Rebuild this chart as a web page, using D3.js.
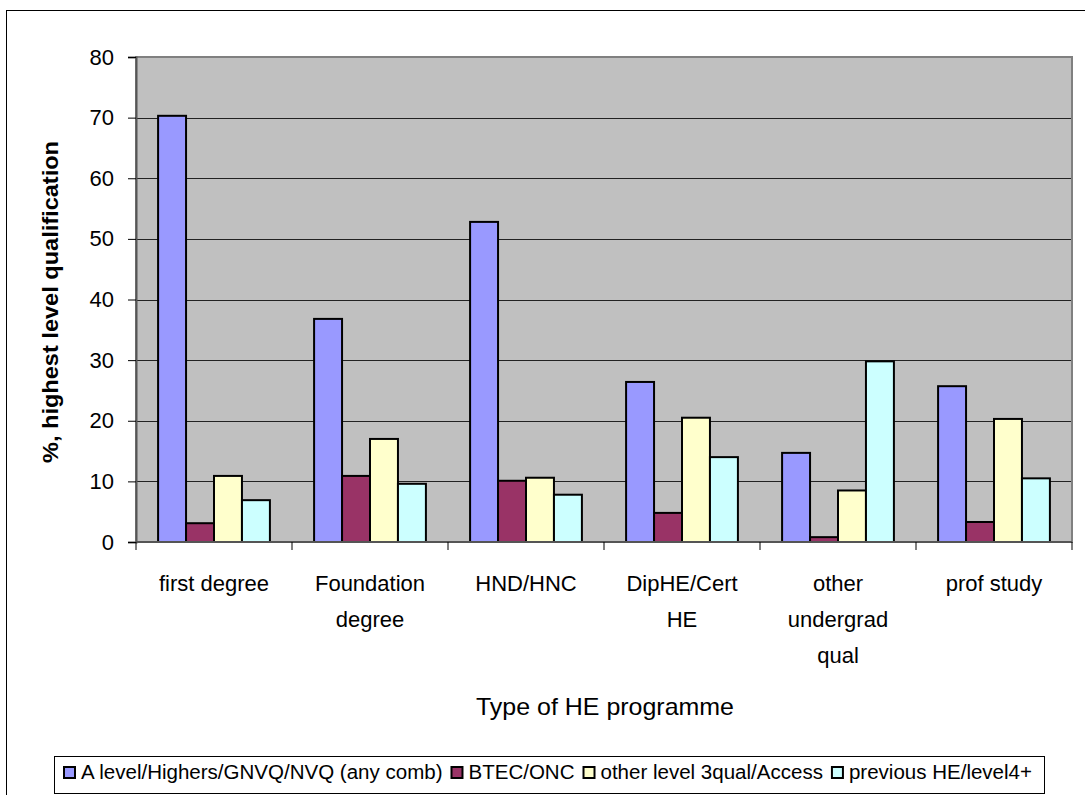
<!DOCTYPE html>
<html>
<head>
<meta charset="utf-8">
<script src="https://cdn.jsdelivr.net/npm/d3@7"></script>
<style>
  body { margin: 0; background: #fff; }
  text { font-family: "Liberation Sans", Arial, sans-serif; }
</style>
</head>
<body>
<div id="chart"></div>
<script>
const categories = ["first degree", "Foundation degree", "HND/HNC", "DipHE/Cert HE", "other undergrad qual", "prof study"];
const categoryLines = [["first degree"], ["Foundation", "degree"], ["HND/HNC"], ["DipHE/Cert", "HE"], ["other", "undergrad", "qual"], ["prof study"]];
const seriesNames = ["A level/Highers/GNVQ/NVQ (any comb)", "BTEC/ONC", "other level 3qual/Access", "previous HE/level4+"];
const seriesColors = ["#9999FF", "#993366", "#FFFFCC", "#CCFFFF"];
const aLevel = [70.3, 36.8, 52.8, 26.4, 14.7, 25.7];
const btec = [3.1, 10.9, 10.1, 4.8, 0.8, 3.3];
const otherL3 = [10.9, 17.0, 10.6, 20.5, 8.5, 20.3];
const prevHE = [6.9, 9.6, 7.8, 14.0, 29.8, 10.5];
const yTicks = [0, 10, 20, 30, 40, 50, 60, 70, 80];

const series = [aLevel, btec, otherL3, prevHE];
const width = 1085, height = 795;
const plotL = 136, plotR = 1072, plotT = 57, plotB = 542;

const svg = d3.select("#chart").append("svg")
    .attr("width", width)
    .attr("height", height);

// outer chart border
svg.append("rect")
    .attr("x", 6.5).attr("y", 10.5)
    .attr("width", 1090).attr("height", 800)
    .attr("fill", "#fff").attr("stroke", "#000").attr("stroke-width", 1);

const x = d3.scaleBand().domain(categories).range([plotL, plotR]);
const inner = d3.scaleBand().domain(d3.range(4))
    .range([0, x.bandwidth()]).paddingOuter(0.79).paddingInner(0);
const y = d3.scaleLinear().domain([0, 80]).range([plotB, plotT]);

// plot background
svg.append("rect")
    .attr("x", plotL).attr("y", plotT)
    .attr("width", plotR - plotL).attr("height", plotB - plotT)
    .attr("fill", "#C0C0C0");

// gridlines
svg.append("g").selectAll("line")
    .data(yTicks.filter(d => d > 0 && d < 80))
    .join("line")
    .attr("x1", plotL).attr("x2", plotR)
    .attr("y1", d => Math.round(y(d)) + 0.5).attr("y2", d => Math.round(y(d)) + 0.5)
    .attr("stroke", "#222").attr("stroke-width", 1);

// plot border
svg.append("rect")
    .attr("x", plotL).attr("y", plotT)
    .attr("width", plotR - plotL).attr("height", plotB - plotT)
    .attr("fill", "none").attr("stroke", "#808080").attr("stroke-width", 2);

// bars
const groups = svg.append("g").selectAll("g")
    .data(series)
    .join("g")
    .attr("fill", (d, i) => seriesColors[i]);

groups.selectAll("rect")
    .data((vals, si) => vals.map((v, ci) => ({ v, ci, si })))
    .join("rect")
    .attr("x", d => x(categories[d.ci]) + inner(d.si))
    .attr("width", inner.bandwidth())
    .attr("y", d => y(d.v))
    .attr("height", d => y(0) - y(d.v))
    .attr("stroke", "#000")
    .attr("stroke-width", 2);

// y axis
const yAxis = svg.append("g")
    .attr("transform", `translate(${plotL},0)`)
    .call(d3.axisLeft(y).tickValues(yTicks).tickSize(8).tickPadding(14));
yAxis.select(".domain").attr("stroke", "#555").attr("stroke-width", 2);
yAxis.selectAll(".tick line").attr("stroke", "#000");
yAxis.selectAll(".tick text").attr("font-size", 22).attr("fill", "#000")
    .attr("font-family", "Liberation Sans, Arial, sans-serif");

// x axis ticks at category boundaries
const xAxis = svg.append("g").attr("transform", `translate(0,${plotB})`);
xAxis.append("line").attr("x1", plotL).attr("x2", plotR).attr("stroke", "#555").attr("stroke-width", 2);
xAxis.selectAll(".bt")
    .data(categories.concat([null]))
    .join("line")
    .attr("x1", (d, i) => i < categories.length ? x(d) : plotR)
    .attr("x2", (d, i) => i < categories.length ? x(d) : plotR)
    .attr("y1", 0).attr("y2", 8)
    .attr("stroke", "#000");

// category labels
categoryLines.forEach((lines, i) => {
    const cx = x(categories[i]) + x.bandwidth() / 2;
    const t = svg.append("text")
        .attr("x", cx)
        .attr("y", 591)
        .attr("text-anchor", "middle")
        .attr("font-size", 22)
        .attr("fill", "#000");
    lines.forEach((ln, j) => {
        t.append("tspan")
            .attr("x", cx)
            .attr("dy", j === 0 ? 0 : 36)
            .text(ln);
    });
});

// axis titles
svg.append("text")
    .attr("transform", "translate(58,302) rotate(-90)")
    .attr("text-anchor", "middle")
    .attr("font-size", 22)
    .attr("font-weight", "bold")
    .attr("textLength", 322)
    .attr("lengthAdjust", "spacingAndGlyphs")
    .text("%, highest level qualification");

svg.append("text")
    .attr("x", 605).attr("y", 715)
    .attr("text-anchor", "middle")
    .attr("font-size", 24)
    .attr("textLength", 258)
    .attr("lengthAdjust", "spacingAndGlyphs")
    .text("Type of HE programme");

// legend
const legend = svg.append("g");
legend.append("rect")
    .attr("x", 54.5).attr("y", 756.5)
    .attr("width", 990).attr("height", 37)
    .attr("fill", "#fff").attr("stroke", "#000");

const legStart = 63, legEnd = 1032, swGap = 18, itemGap = 8;
const texts = seriesNames.map(name => legend.append("text")
    .attr("y", 779)
    .attr("font-size", 20)
    .text(name));
const natural = texts.map(t => t.node().getComputedTextLength());
const k = (legEnd - legStart - seriesNames.length * swGap - (seriesNames.length - 1) * itemGap) / d3.sum(natural);
let lx = legStart;
texts.forEach((t, i) => {
    legend.append("rect")
        .attr("x", lx + 1).attr("y", 767)
        .attr("width", 11).attr("height", 11)
        .attr("fill", seriesColors[i]).attr("stroke", "#000").attr("stroke-width", 2);
    const w = natural[i] * k;
    t.attr("x", lx + swGap)
        .attr("textLength", w)
        .attr("lengthAdjust", "spacingAndGlyphs");
    lx += swGap + w + itemGap;
});
</script>
</body>
</html>
